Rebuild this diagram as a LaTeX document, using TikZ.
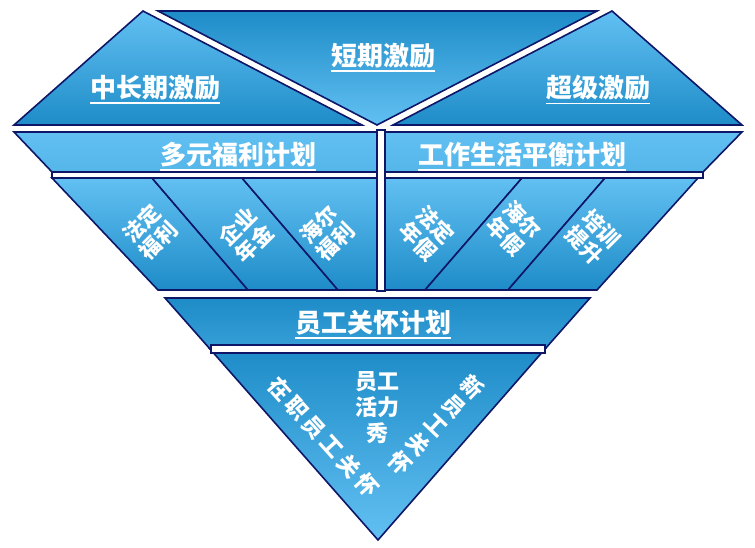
\documentclass[tikz,border=0pt]{standalone}
\usepackage{fontspec}
\newfontfamily\cjk{Noto Sans CJK SC}
\definecolor{navy}{RGB}{14,22,104}
\definecolor{lb}{RGB}{98,192,242}
\definecolor{db}{RGB}{30,140,200}
\begin{document}
\begin{tikzpicture}[x=1pt,y=-1pt,
  outl/.style={draw=navy, line width=1.6pt, line join=miter},
  lightdown/.style={outl, top color=lb, bottom color=db},
  darkdown/.style={outl, top color=db, bottom color=lb},
  bar/.style={draw=navy, line width=1.4pt, fill=white},
  title/.style={text=white, font=\cjk\bfseries\fontsize{26}{28}\selectfont, inner sep=0pt},
  lab/.style={text=white, font=\cjk\bfseries\fontsize{21.5}{23.5}\selectfont, align=center, inner sep=0pt},
  labb/.style={text=white, font=\cjk\bfseries\fontsize{22}{26}\selectfont, align=center, inner sep=0pt},
  uline/.style={white, line width=1.6pt}
]
\useasboundingbox (0,0) rectangle (755,548);
% top row
\path[lightdown] (143,11) -- (362,125) -- (14,125) -- cycle;
\path[darkdown] (158,11) -- (597,11) -- (377,125) -- cycle;
\path[lightdown] (612,11) -- (742,125) -- (393,125) -- cycle;
% second row
\path[outl, top color=lb, bottom color=lb!80!db] (14,132) -- (377,132) -- (377,172) -- (52,172) -- cycle;
\path[outl, top color=lb, bottom color=lb!80!db] (385,132) -- (742,132) -- (703,172) -- (385,172) -- cycle;
\path[bar] (52,172) rectangle (703,178);
% third row
\path[lightdown] (52,178) -- (152,178) -- (248,290) -- (158,290) -- cycle;
\path[lightdown] (152,178) -- (242,178) -- (338,290) -- (248,290) -- cycle;
\path[lightdown] (242,178) -- (377,178) -- (377,290) -- (338,290) -- cycle;
\path[lightdown] (385,178) -- (522,178) -- (425,290) -- (385,290) -- cycle;
\path[lightdown] (522,178) -- (605,178) -- (508,290) -- (425,290) -- cycle;
\path[lightdown] (605,178) -- (698,178) -- (597,290) -- (508,290) -- cycle;
\path[bar] (377,130) rectangle (385,291);
% bottom triangle
\path[outl, top color=db, bottom color=db!65!lb] (165,298) -- (590,298) -- (545,349) -- (210,349) -- cycle;
\path[darkdown] (210,349) -- (545,349) -- (378,540) -- cycle;
\path[bar] (211,345) rectangle (545,353);
% titles
\node[title] (t1) at (155,88) {中长期激励};
\node[title] (t2) at (383,56) {短期激励};
\node[title] (t3) at (598,88) {超级激励};
\node[title] (t4) at (238,155) {多元福利计划};
\node[title] (t5) at (522,155) {工作生活平衡计划};
\node[title] (t6) at (373,323) {员工关怀计划};
\foreach \t in {t1,t2,t3,t4,t5,t6}
  \draw[uline] ([yshift=-2.5pt]\t.south west) -- ([yshift=-2.5pt]\t.south east);
% third row labels
\node[lab, rotate=45] (l1) at (150,232) {法定\\福利};
\node[lab, rotate=45] (l2) at (246,235) {企业\\年金};
\node[lab, rotate=45] (l3) at (327,233) {海尔\\福利};
\node[lab, rotate=-45] (r1) at (427,233) {法定\\年假};
\node[lab, rotate=-45] (r2) at (514,228) {海尔\\年假};
\node[lab, rotate=-45] (r3) at (593,237) {培训\\提升};
% bottom labels
\node[labb] (m) at (377,408) {员工\\活力\\秀};
\node[labb, rotate=-48] (bl) at (323,437) {在\hspace{4pt}职\hspace{4pt}员\hspace{4pt}工\hspace{4pt}关\hspace{4pt}怀};
\node[labb, rotate=-43.5] (br) at (436,425) {新\\员\\工\\关\\怀};
\end{tikzpicture}
\end{document}
